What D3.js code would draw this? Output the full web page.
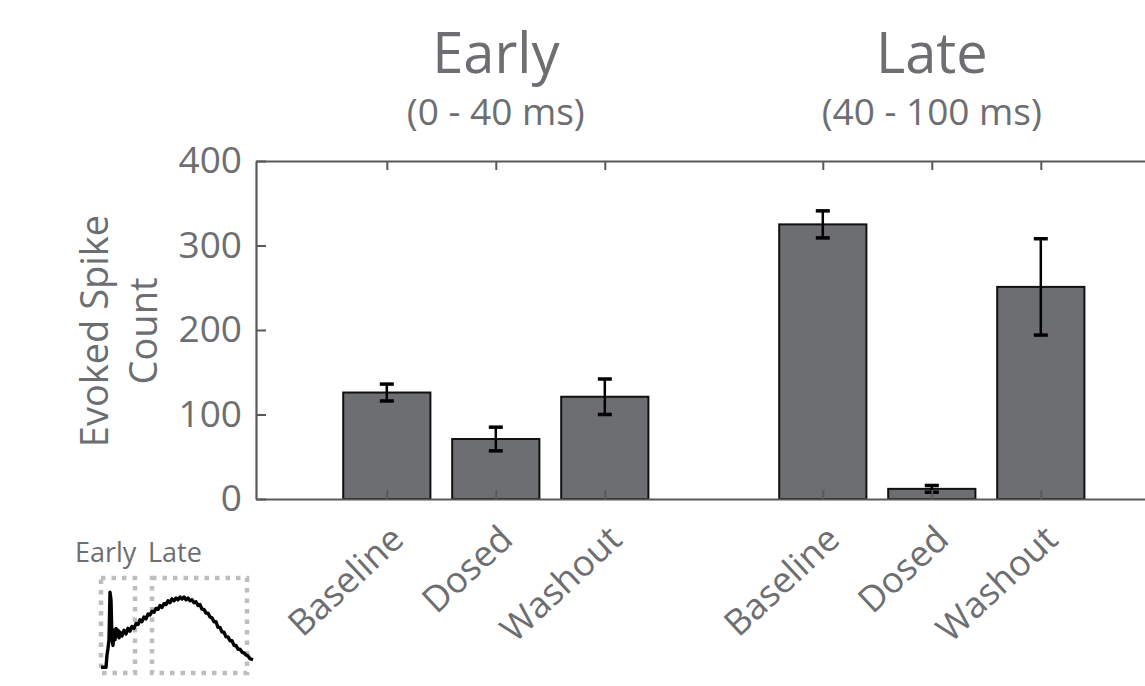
<!DOCTYPE html>
<html>
<head>
<meta charset="utf-8">
<script src="https://cdn.jsdelivr.net/npm/d3@7"></script>
<style>
  body { margin: 0; background: #fff; }
  svg { display: block; font-family: 'Open Sans', sans-serif; }
</style>
</head>
<body>
<div id="chart"></div>
<script>
const conditions = ['Baseline', 'Dosed', 'Washout'];
const windows = ['Early', 'Late'];
const windowRanges = ['(0 - 40 ms)', '(40 - 100 ms)'];
const earlyMeans = [126, 71, 121];
const earlyErrors = [10, 14, 21];
const lateMeans = [325, 12, 251];
const lateErrors = [16, 4, 57];
const yTicks = [0, 100, 200, 300, 400];

// inset: schematic response trace (arbitrary units)
const traceX = [0, 5, 6, 7, 8, 9, 10, 11, 12, 13, 14, 15, 16, 17, 18, 19, 21, 23, 25, 27, 29, 31, 33, 35, 37,
  39, 41, 43, 45, 47, 49, 51, 53, 55, 57, 59, 61, 63, 65, 67, 69, 71, 73, 75, 77, 79, 81, 83, 85, 87, 89,
  91, 93, 95, 97, 99, 101, 103, 105, 107, 109, 111, 113, 115, 117, 119, 121, 123, 125, 127, 129, 131, 133,
  135, 137, 139, 141, 143, 145, 147, 149, 152];
const traceY = [6, 6, 19, 26, 35, 85, 77, 35, 29, 45, 35, 47, 39, 45, 37, 43, 39, 45, 41, 47, 44, 49, 47, 52, 51,
  56, 54, 59, 57, 62, 61, 65, 64, 68, 67, 71, 69, 73, 72, 76, 74, 78, 76, 79, 77, 80, 78, 80, 77, 79, 76,
  77, 74, 75, 71, 72, 67, 67, 63, 63, 59, 58, 54, 54, 48, 48, 43, 43, 38, 38, 34, 34, 29,
  29, 25, 25, 22, 21, 19, 18, 15, 14];
const insetWindows = [[0, 34], [51, 146]];
const insetLabels = ['Early', 'Late'];

const width = 1145, height = 686;
const textColor = '#6d6e71';
const axisColor = '#58595b';

const svg = d3.select('#chart')
  .append('svg')
  .attr('width', width)
  .attr('height', height);

// scales
const x = d3.scaleLinear().domain([-0.2, 8.2]).range([256, 256 + 8.4 * 109]);
const y = d3.scaleLinear().domain([0, 400]).range([499, 161]);
const barW = x(0.8) - x(0);

const bars = [];
windows.forEach((w, wi) => {
  const means = wi === 0 ? earlyMeans : lateMeans;
  const errs = wi === 0 ? earlyErrors : lateErrors;
  conditions.forEach((c, ci) => {
    bars.push({ label: c, slot: wi * 4 + ci + 1, mean: means[ci], err: errs[ci] });
  });
});

// bars
svg.append('g').selectAll('rect')
  .data(bars)
  .join('rect')
  .attr('x', d => x(d.slot) - barW / 2)
  .attr('y', d => y(d.mean))
  .attr('width', barW)
  .attr('height', d => y(0) - y(d.mean))
  .attr('fill', '#6d6e71')
  .attr('stroke', '#111')
  .attr('stroke-width', 2);

// error bars
const eb = svg.append('g').attr('stroke', '#000').attr('stroke-width', 2.5);
bars.forEach(d => {
  eb.append('line')
    .attr('x1', x(d.slot)).attr('x2', x(d.slot))
    .attr('y1', y(d.mean - d.err)).attr('y2', y(d.mean + d.err));
  [d.mean - d.err, d.mean + d.err].forEach(v => {
    eb.append('line')
      .attr('x1', x(d.slot) - 7).attr('x2', x(d.slot) + 7)
      .attr('y1', y(v)).attr('y2', y(v))
      .attr('stroke-width', 3.5);
  });
});

// axes (box style, ticks pointing inward)
const slots = bars.map(d => d.slot);

const leftAxis = svg.append('g')
  .attr('transform', `translate(${x(-0.2)},0)`)
  .call(d3.axisLeft(y).tickValues(yTicks).tickSizeInner(-10).tickSizeOuter(0).tickPadding(14));
const bottomAxis = svg.append('g')
  .attr('transform', `translate(0,${y(0)})`)
  .call(d3.axisBottom(x).tickValues(slots).tickSizeInner(-9).tickSizeOuter(0).tickFormat(''));
const topAxis = svg.append('g')
  .attr('transform', `translate(0,${y(400)})`)
  .call(d3.axisTop(x).tickValues(slots).tickSizeInner(-9).tickSizeOuter(0).tickFormat(''));

[leftAxis, bottomAxis, topAxis].forEach(g => {
  g.select('.domain').attr('stroke', axisColor).attr('stroke-width', 2.2);
  g.selectAll('.tick line').attr('stroke', axisColor).attr('stroke-width', 2);
});
leftAxis.selectAll('.tick text')
  .attr('fill', textColor)
  .attr('font-size', 37)
  .attr('font-family', "'Open Sans', sans-serif");

// rotated category labels
svg.append('g').selectAll('text')
  .data(bars)
  .join('text')
  .attr('transform', d => `translate(${x(d.slot) + 19},${y(0) + 43}) rotate(-43)`)
  .attr('text-anchor', 'end')
  .attr('fill', textColor)
  .attr('font-size', 36)
  .text(d => d.label);

// window titles
windows.forEach((w, wi) => {
  const cx = x(wi * 4 + 2);
  svg.append('text')
    .attr('x', cx).attr('y', 73)
    .attr('text-anchor', 'middle')
    .attr('fill', textColor)
    .attr('font-size', 56)
    .text(w);
  svg.append('text')
    .attr('x', cx).attr('y', 125)
    .attr('text-anchor', 'middle')
    .attr('fill', textColor)
    .attr('font-size', 37)
    .text(windowRanges[wi]);
});

// y label
const yl = svg.append('text')
  .attr('transform', 'translate(108,331) rotate(-90)')
  .attr('text-anchor', 'middle')
  .attr('fill', textColor)
  .attr('font-size', 38);
yl.append('tspan').attr('x', 0).attr('dy', 0).text('Evoked Spike');
yl.append('tspan').attr('x', 0).attr('dy', 49).text('Count');

// inset
const ix = d3.scaleLinear().domain([0, 150]).range([101, 251]);
const iy = d3.scaleLinear().domain([0, 100]).range([673, 578]);

svg.append('g').selectAll('rect')
  .data(insetWindows)
  .join('rect')
  .attr('x', d => ix(d[0]))
  .attr('y', iy(100))
  .attr('width', d => ix(d[1]) - ix(d[0]))
  .attr('height', iy(0) - iy(100))
  .attr('fill', 'none')
  .attr('stroke', '#bcbec0')
  .attr('stroke-width', 4.5)
  .attr('stroke-dasharray', '4.5 6');

const trace = traceX.map((t, i) => [t, traceY[i]]);
svg.append('path')
  .datum(trace)
  .attr('d', d3.line().x(d => ix(d[0])).y(d => iy(d[1])))
  .attr('fill', 'none')
  .attr('stroke', '#000')
  .attr('stroke-width', 3.4)
  .attr('stroke-linejoin', 'round');

svg.append('g').selectAll('text')
  .data(insetLabels)
  .join('text')
  .attr('x', (d, i) => i === 0 ? 75 : 148)
  .attr('y', 562)
  .attr('fill', textColor)
  .attr('font-size', 27)
  .text(d => d);
</script>
</body>
</html>
